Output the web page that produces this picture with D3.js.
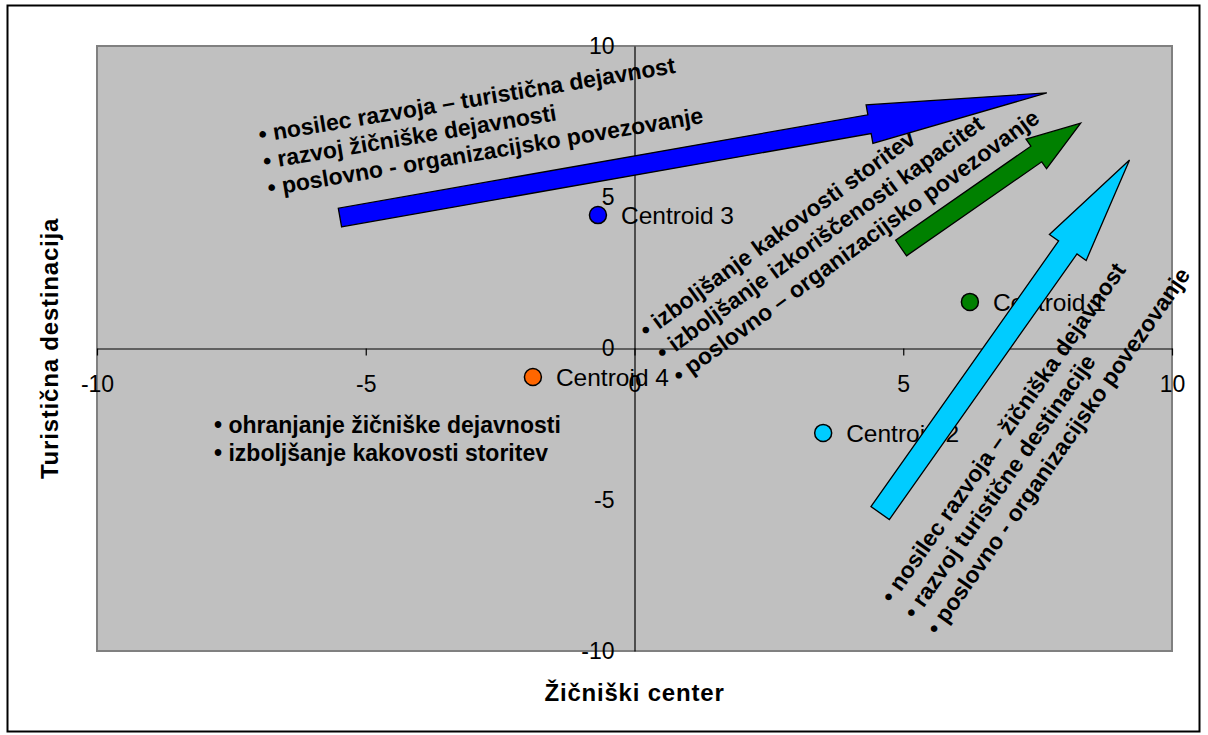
<!DOCTYPE html>
<html>
<head>
<meta charset="utf-8">
<script src="https://cdn.jsdelivr.net/npm/d3@7"></script>
<style>
  html, body { margin: 0; padding: 0; background: #fff; }
  svg { display: block; font-family: "Liberation Sans", Arial, sans-serif; }
</style>
</head>
<body>
<svg id="chart" width="1208" height="735"></svg>
<script>
// Axis ticks
const xTicks = [-10, -5, 0, 5, 10];
const yTicks = [-10, -5, 0, 5, 10];

// Cluster centroids
const centroidNames = ["Centroid 1", "Centroid 2", "Centroid 3", "Centroid 4"];
const centroidX = [6.24, 3.51, -0.68, -1.89];
const centroidY = [1.54, -2.79, 4.41, -0.94];
const centroidColors = ["#008000", "#00CCFF", "#0000FF", "#FF6600"];

// Development-direction arrows (tail -> tip, in axis units)
const arrowTailX = [-5.48, 4.96, 4.57];
const arrowTailY = [4.33, 3.32, -5.44];
const arrowTipX = [7.67, 8.30, 9.21];
const arrowTipY = [8.45, 7.45, 6.23];
const arrowColors = ["#0000FF", "#008000", "#00CCFF"];

// Strategy notes
const notesBlue = [
  "\u2022 nosilec razvoja \u2013 turistična dejavnost",
  "\u2022 razvoj žičniške dejavnosti",
  "\u2022 poslovno - organizacijsko povezovanje"
];
const notesGreen = [
  "\u2022 izboljšanje kakovosti storitev",
  "\u2022 izboljšanje izkoriščenosti kapacitet",
  "\u2022 poslovno \u2013 organizacijsko povezovanje"
];
const notesCyan = [
  "\u2022 nosilec razvoja \u2013 žičniška dejavnost",
  "\u2022 razvoj turistične destinacije",
  "\u2022 poslovno - organizacijsko povezovanje"
];
const notesOrange = [
  "\u2022 ohranjanje žičniške dejavnosti",
  "\u2022 izboljšanje kakovosti storitev"
];

const xTitle = "Žičniški center";
const yTitle = "Turistična destinacija";

const svg = d3.select("#chart");

// outer chart frame
svg.append("rect")
  .attr("x", 7.5).attr("y", 5.5)
  .attr("width", 1192).attr("height", 726)
  .attr("fill", "#fff").attr("stroke", "#000").attr("stroke-width", 2);

const x = d3.scaleLinear().domain([-10, 10]).range([97, 1172]);
const y = d3.scaleLinear().domain([-10, 10]).range([651, 46]);

// plot area
svg.append("rect")
  .attr("x", x(-10)).attr("y", y(10))
  .attr("width", x(10) - x(-10)).attr("height", y(-10) - y(10))
  .attr("fill", "#C0C0C0").attr("stroke", "#808080").attr("stroke-width", 2);

// horizontal axis through y = 0
const gx = svg.append("g")
  .attr("transform", `translate(0,${y(0)})`)
  .call(d3.axisBottom(x).tickValues(xTicks).tickSize(7).tickSizeOuter(0)
    .tickPadding(20).tickFormat(d => String(d)));

// vertical axis through x = 0
const gy = svg.append("g")
  .attr("transform", `translate(${x(0)},0)`)
  .call(d3.axisLeft(y).tickValues(yTicks).tickSize(0).tickSizeOuter(0)
    .tickPadding(20).tickFormat(d => String(d)));

[gx, gy].forEach(g => {
  g.select(".domain").attr("stroke", "#000").attr("stroke-width", 1.2);
  g.selectAll(".tick line").attr("stroke", "#000").attr("stroke-width", 1.2);
  g.selectAll(".tick text")
    .attr("fill", "#000")
    .style("font-family", "'Liberation Sans', Arial, sans-serif")
    .style("font-size", "23px");
});

// centroids
const centroids = centroidNames.map((n, i) => ({ name: n, x: centroidX[i], y: centroidY[i], color: centroidColors[i] }));
const cg = svg.append("g");
cg.selectAll("circle").data(centroids).join("circle")
  .attr("cx", d => x(d.x)).attr("cy", d => y(d.y)).attr("r", 8.5)
  .attr("fill", d => d.color).attr("stroke", "#000").attr("stroke-width", 1.5);
cg.selectAll("text").data(centroids).join("text")
  .attr("x", d => x(d.x) + 23).attr("y", d => y(d.y))
  .attr("dy", "0.36em")
  .style("font-size", "24.5px").attr("fill", "#000")
  .text(d => d.name);

// block arrows
const arrowShape = [
  { shaft: 19, head: 39, headLen: 180 },
  { shaft: 19, head: 36, headLen: 54 },
  { shaft: 22.5, head: 45, headLen: 107 }
];
function arrowPoints(x0, y0, x1, y1, s) {
  const dx = x1 - x0, dy = y1 - y0, len = Math.hypot(dx, dy);
  const ux = dx / len, uy = dy / len, nx = -uy, ny = ux;
  const bx = x1 - ux * s.headLen, by = y1 - uy * s.headLen;
  const w = s.shaft / 2, W = s.head / 2;
  return [
    [x0 + nx * w, y0 + ny * w], [bx + nx * w, by + ny * w], [bx + nx * W, by + ny * W],
    [x1, y1],
    [bx - nx * W, by - ny * W], [bx - nx * w, by - ny * w], [x0 - nx * w, y0 - ny * w]
  ];
}
const arrows = arrowTailX.map((_, i) => ({
  pts: arrowPoints(x(arrowTailX[i]), y(arrowTailY[i]), x(arrowTipX[i]), y(arrowTipY[i]), arrowShape[i]),
  color: arrowColors[i]
}));
svg.append("g").selectAll("polygon").data(arrows).join("polygon")
  .attr("points", d => d.pts.map(p => p.join(",")).join(" "))
  .attr("fill", d => d.color).attr("stroke", "#000").attr("stroke-width", 1.3)
  .attr("stroke-linejoin", "miter");

// rotated note blocks
function noteBlock(lines, px, py, angle, spacing) {
  const g = svg.append("g").attr("transform", `translate(${px},${py}) rotate(${angle})`);
  g.selectAll("text").data(lines).join("text")
    .attr("x", 0).attr("y", (d, i) => i * spacing)
    .style("font-size", "23px").style("font-weight", "bold").attr("fill", "#000")
    .text(d => d);
}
noteBlock(notesBlue, 260, 142.5, -9.5, 27);
noteBlock(notesGreen, 647, 338.4, -36, 28);
noteBlock(notesCyan, 892.5, 604.4, -55, 27.8);
noteBlock(notesOrange, 214, 433, 0, 28);

// axis titles
svg.append("text")
  .attr("x", x(0)).attr("y", 701)
  .attr("text-anchor", "middle")
  .style("font-size", "24px").style("font-weight", "bold").style("letter-spacing", "0.8px")
  .text(xTitle);
svg.append("text")
  .attr("transform", `translate(58,${(y(10) + y(-10)) / 2}) rotate(-90)`)
  .attr("text-anchor", "middle")
  .style("font-size", "24px").style("font-weight", "bold").style("letter-spacing", "0.8px")
  .text(yTitle);
</script>
</body>
</html>
